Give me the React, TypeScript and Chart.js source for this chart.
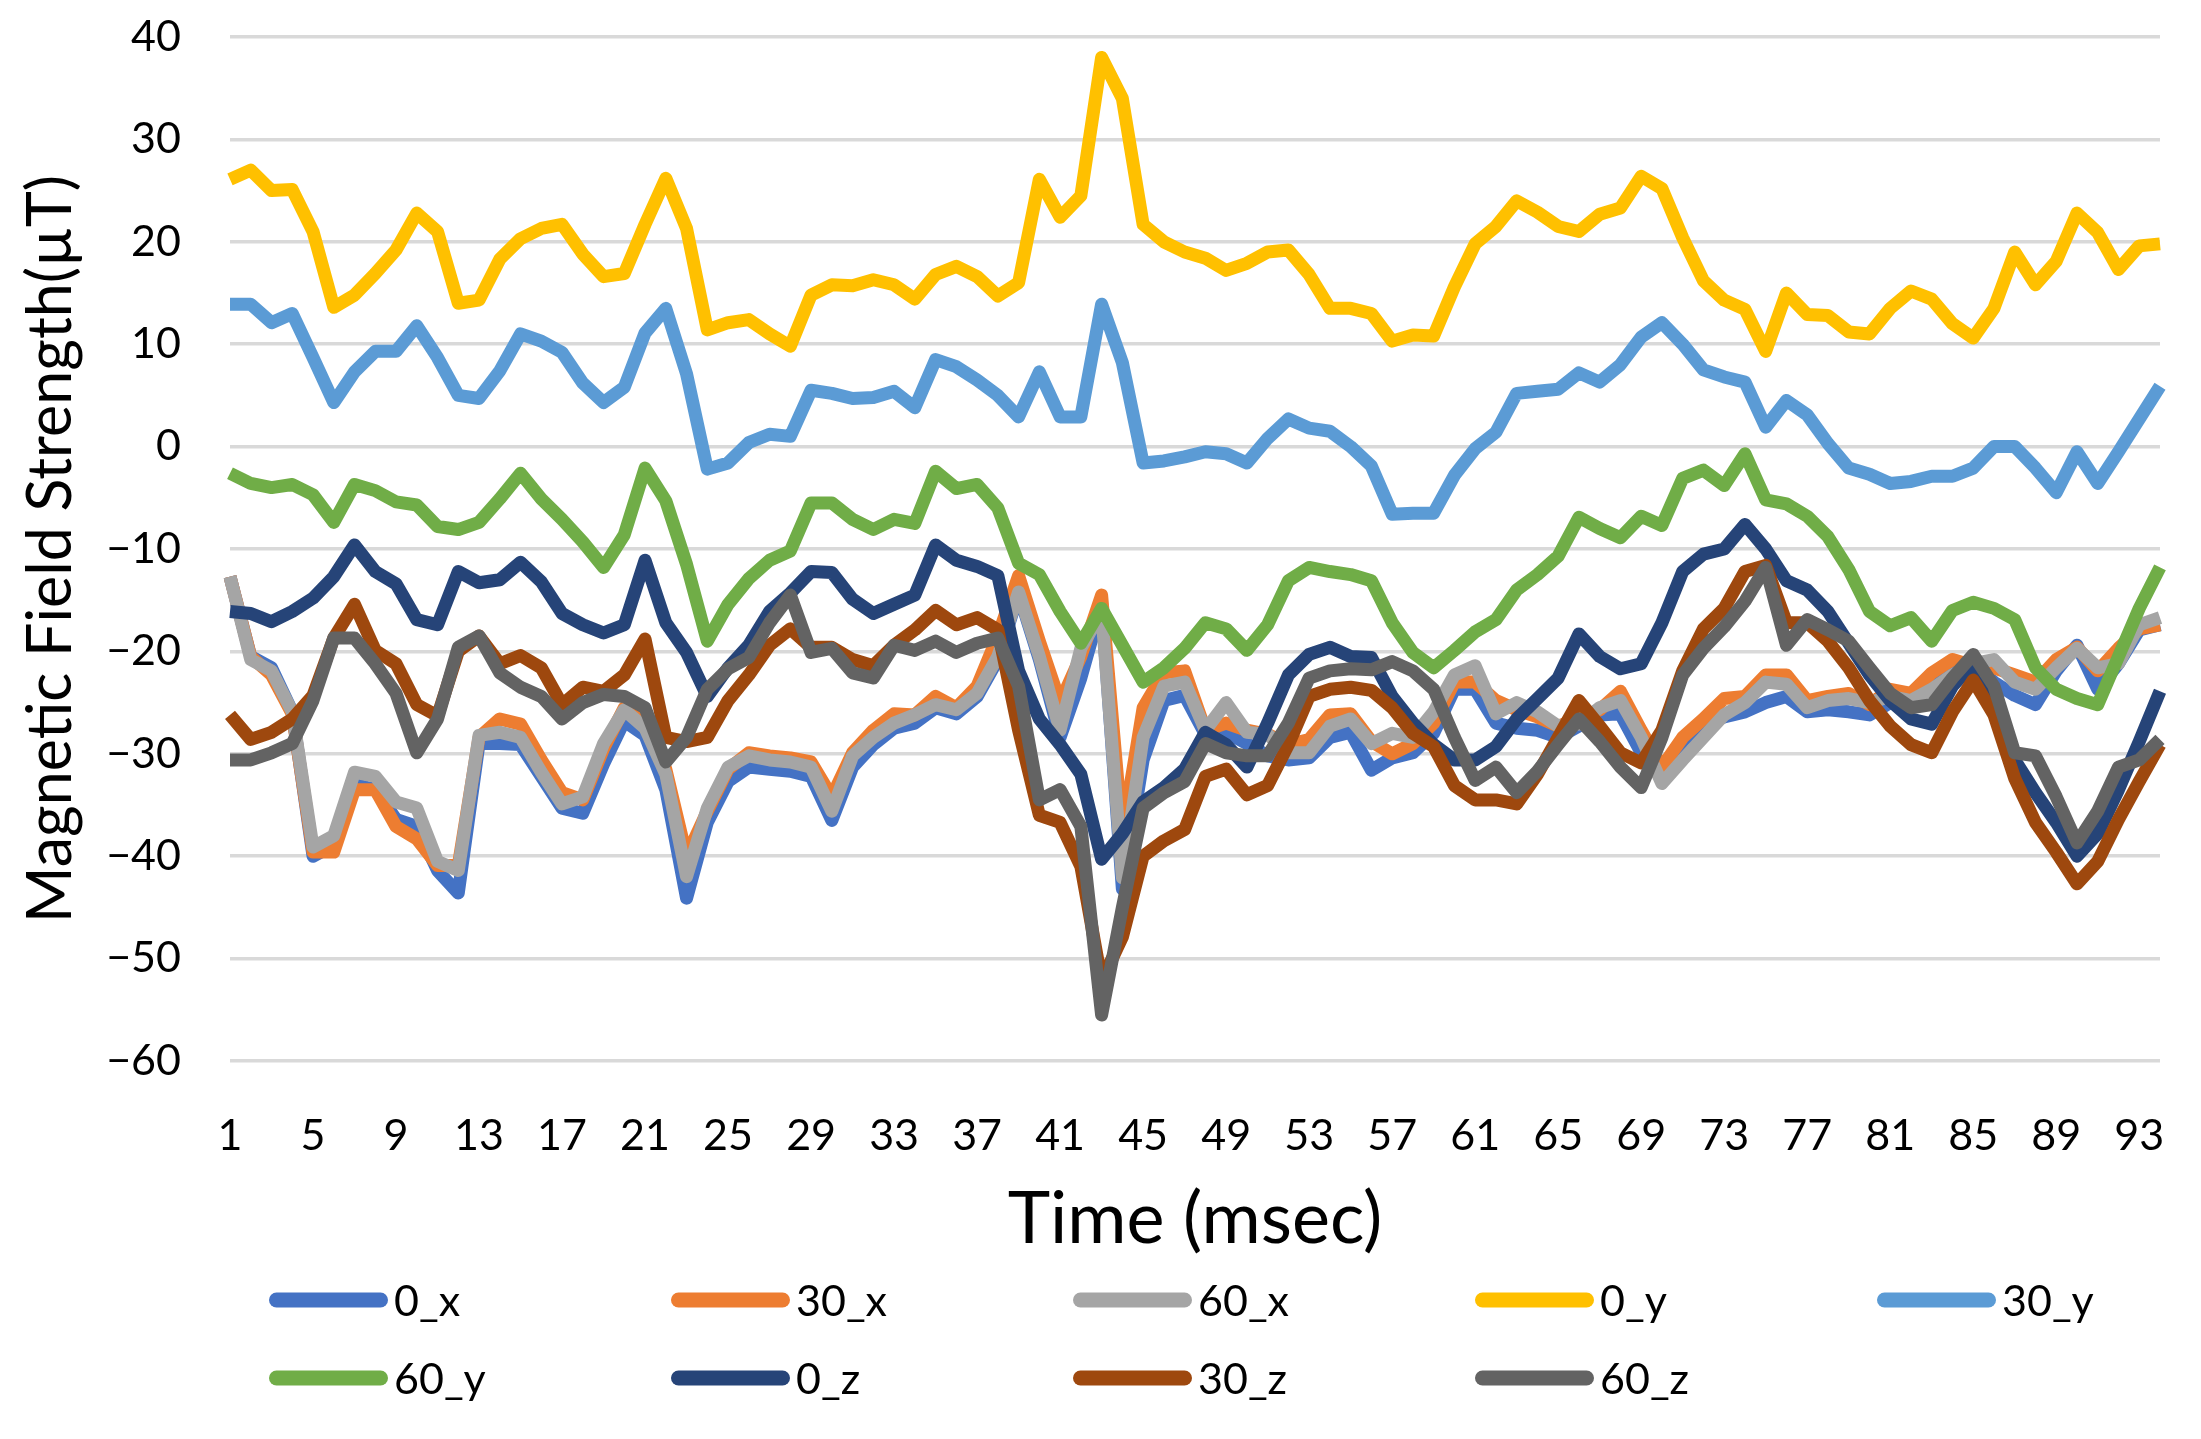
import React, { useEffect, useRef } from 'react';
import { Chart, registerables } from 'chart.js';

Chart.register(...registerables);

// ---------- data ----------
const categories = [
  '1','2','3','4','5','6','7','8','9','10','11','12','13','14','15','16','17','18','19','20',
  '21','22','23','24','25','26','27','28','29','30','31','32','33','34','35','36','37','38','39','40',
  '41','42','43','44','45','46','47','48','49','50','51','52','53','54','55','56','57','58','59','60',
  '61','62','63','64','65','66','67','68','69','70','71','72','73','74','75','76','77','78','79','80',
  '81','82','83','84','85','86','87','88','89','90','91','92','93','94',
];

const s0x = [
  -12.7, -20.5, -21.6, -25.9, -40, -38.9, -33, -33.5, -36.4, -37.1,
  -41.4, -43.6, -29, -29, -29.1, -32.2, -35.3, -35.8, -31, -26.8,
  -28.2, -33.5, -44.1, -36.7, -32.7, -31.3, -31.5, -31.7, -32.2, -36.5,
  -31.3, -29.1, -27.5, -27, -25.5, -26.1, -24.4, -20.8, -14.3, -20.8,
  -28.4, -22.6, -15.4, -43.2, -30.6, -24.8, -24.3, -28.1, -27.9, -29,
  -30.2, -30.6, -30.4, -28.4, -27.9, -31.6, -30.4, -29.9, -28, -23.7,
  -23.7, -27, -27.5, -27.7, -28.4, -27.3, -26.2, -26.1, -29.9, -32.2,
  -28.8, -27, -26.4, -25.9, -25, -24.4, -25.9, -25.7, -25.9, -26.2,
  -25, -24.1, -22.5, -21.2, -21.2, -23, -24.3, -25.2, -21.9, -19.4,
  -23.7, -21.2, -17.9, -17.4,
];

const s30x = [
  -12.7, -20.5, -22.3, -26.1, -39.6, -39.6, -33.5, -33.5, -37.1, -38.3,
  -40.9, -40.9, -28.4, -26.6, -27.1, -30.6, -33.8, -34.5, -29.5, -25.5,
  -27, -31.5, -40, -35.6, -31.5, -29.9, -30.2, -30.4, -30.8, -34.2,
  -29.9, -27.7, -26.1, -26.2, -24.4, -25.5, -23.4, -18.5, -12.6, -19,
  -25, -20.5, -14.5, -37.8, -25.5, -22.1, -21.9, -27.7, -27, -27.7,
  -28.1, -29.1, -28.6, -26.2, -26.1, -28.8, -30, -29, -27, -23,
  -23, -24.8, -25.7, -26.4, -27.3, -26.6, -25.7, -23.9, -27.7, -31.3,
  -28.4, -26.6, -24.6, -24.4, -22.3, -22.3, -24.8, -24.4, -24.1, -25.2,
  -23.7, -24.1, -22.1, -20.8, -21.4, -21.6, -22.3, -23, -20.8, -19.6,
  -21.9, -19.7, -17.8, -17.4,
];

const s60x = [
  -12.7, -20.8, -21.9, -25.9, -39.1, -38, -31.8, -32.2, -34.7, -35.3,
  -40.5, -41.4, -28.2, -27.9, -28.4, -31.8, -34.9, -34.2, -29, -25.7,
  -27.5, -32, -42, -35.3, -31.3, -30.2, -30.6, -30.8, -31.3, -35.6,
  -30.2, -28.4, -27, -26.2, -25.2, -25.7, -24.1, -20.5, -14.2, -20.5,
  -27.7, -19.7, -16.1, -42.1, -28.4, -23.4, -23, -27.7, -25, -27.9,
  -28.1, -29.9, -29.9, -27.3, -26.6, -29, -28, -28.4, -25.9, -22.3,
  -21.4, -26.1, -25, -25.9, -27.3, -27.1, -25.5, -24.8, -28.4, -32.9,
  -30.6, -28.4, -26.2, -25, -23, -23.2, -25.5, -24.8, -24.6, -25,
  -24.4, -24.8, -23.7, -22.3, -21.2, -20.8, -23, -23.7, -21.6, -19.7,
  -21.6, -21.2, -17.4, -16.7,
];

const s0y = [
  26.1, 27, 25, 25.1, 21, 13.6, 14.8, 16.9, 19.2, 22.8,
  21, 14, 14.3, 18.3, 20.3, 21.3, 21.7, 18.8, 16.6, 16.9,
  21.7, 26.2, 21.3, 11.4, 12.1, 12.4, 11, 9.8, 14.8, 15.8,
  15.7, 16.3, 15.8, 14.4, 16.8, 17.6, 16.6, 14.7, 16, 26.1,
  22.4, 24.5, 38, 34, 21.7, 20, 19, 18.4, 17.2, 17.9,
  19, 19.2, 16.8, 13.5, 13.5, 13, 10.3, 10.9, 10.8, 15.6,
  19.8, 21.5, 24, 22.9, 21.5, 21, 22.7, 23.3, 26.4, 25.2,
  20.4, 16.2, 14.3, 13.4, 9.3, 15, 12.9, 12.8, 11.2, 11,
  13.5, 15.2, 14.4, 12, 10.6, 13.5, 19, 15.8, 18.1, 22.8,
  20.9, 17.3, 19.6, 19.8,
];

const s30y = [
  13.9, 13.9, 12.1, 13, 8.7, 4.3, 7.3, 9.3, 9.3, 11.8,
  8.7, 5, 4.7, 7.4, 11, 10.3, 9.2, 6.2, 4.3, 5.8,
  11.1, 13.5, 7.1, -2.2, -1.6, 0.4, 1.2, 1, 5.5, 5.2,
  4.7, 4.8, 5.4, 3.8, 8.5, 7.8, 6.5, 5, 2.9, 7.3,
  2.9, 2.9, 13.9, 8.2, -1.6, -1.4, -1, -0.5, -0.7, -1.6,
  0.8, 2.7, 1.8, 1.5, 0, -1.9, -6.6, -6.5, -6.5, -2.8,
  -0.2, 1.4, 5.2, 5.4, 5.6, 7.2, 6.3, 8, 10.7, 12.1,
  10, 7.5, 6.8, 6.3, 1.9, 4.5, 3.1, 0.3, -2.1, -2.7,
  -3.6, -3.4, -2.9, -2.9, -2.1, 0, 0, -2.1, -4.5, -0.5,
  -3.6, -0.5, 2.7, 5.9,
];

const s60y = [
  -2.6, -3.6, -4, -3.7, -4.7, -7.4, -3.7, -4.3, -5.4, -5.7,
  -7.8, -8.1, -7.4, -5.1, -2.6, -5.1, -7.1, -9.3, -11.8, -8.6,
  -2.1, -5.3, -11.5, -19, -15.4, -12.9, -11.1, -10.2, -5.5, -5.5,
  -7.1, -8.1, -7.1, -7.5, -2.4, -4.1, -3.7, -6, -11.4, -12.5,
  -16.1, -19.2, -15.8, -19.4, -23, -21.6, -19.7, -17.2, -17.8, -19.9,
  -17.4, -13.1, -11.8, -12.2, -12.5, -13.1, -17.2, -20.1, -21.6, -19.9,
  -18.1, -16.9, -14, -12.5, -10.7, -6.9, -8, -8.9, -6.8, -7.7,
  -3.1, -2.3, -3.8, -0.7, -5.2, -5.6, -6.8, -8.8, -12, -16.1,
  -17.5, -16.7, -19, -16, -15.2, -15.8, -16.9, -21.6, -23.7, -24.6,
  -25.2, -20.5, -15.8, -11.8,
];

const s0z = [
  -16.1, -16.3, -17.1, -16.1, -14.8, -12.7, -9.6, -12.2, -13.4, -16.9,
  -17.4, -12.2, -13.3, -13, -11.3, -13.2, -16.3, -17.4, -18.2, -17.4,
  -11.1, -17.2, -20.1, -24.4, -21.6, -19.4, -16.1, -14.3, -12.2, -12.3,
  -14.9, -16.3, -15.4, -14.5, -9.6, -11.1, -11.7, -12.6, -21.9, -26.6,
  -29.1, -32, -40.3, -37.8, -34.7, -33.3, -31.5, -27.9, -29.1, -31.3,
  -27, -22.3, -20.3, -19.6, -20.5, -20.6, -24.4, -27, -29.1, -30.6,
  -30.6, -29.3, -26.6, -24.6, -22.6, -18.3, -20.5, -21.7, -21.2, -17.2,
  -12.2, -10.5, -10, -7.6, -10, -13.1, -14, -16.1, -19.2, -22.3,
  -24.8, -26.6, -27.1, -23.4, -21.2, -24.4, -30.6, -33.8, -36.7, -40,
  -37.8, -33.5, -28.8, -23.9,
];

const s30z = [
  -26.2, -28.6, -27.9, -26.6, -24.3, -18.7, -15.4, -19.9, -21.2, -25.2,
  -26.3, -20, -18.5, -21.2, -20.4, -21.6, -25.2, -23.5, -23.9, -22.3,
  -18.8, -28.4, -28.8, -28.4, -24.8, -22.3, -19.4, -17.8, -19.6, -19.6,
  -20.8, -21.4, -19.4, -17.9, -16, -17.4, -16.7, -17.9, -27.7, -36,
  -36.7, -41, -52.2, -47.9, -40, -38.5, -37.4, -32.2, -31.5, -34,
  -33.1, -29.1, -24.4, -23.7, -23.5, -23.8, -25.5, -28, -29.3, -33.1,
  -34.5, -34.5, -34.9, -32, -28.4, -24.8, -27.3, -29.9, -30.9, -27.7,
  -21.9, -17.8, -15.8, -12.2, -11.6, -17.2, -17.2, -19, -21.6, -24.8,
  -27.3, -29.1, -29.9, -25.9, -22.8, -26.2, -32.4, -36.7, -39.6, -42.7,
  -40.5, -36.4, -32.7, -29.1,
];

const s60z = [
  -30.6, -30.6, -29.9, -29, -24.8, -18.7, -18.7, -21.2, -24.1, -29.9,
  -26.6, -19.6, -18.5, -22.1, -23.5, -24.4, -26.6, -25, -24.2, -24.4,
  -25.5, -30.8, -28.4, -23.7, -21.7, -20.6, -17.2, -14.5, -20.1, -19.7,
  -22.1, -22.6, -19.4, -19.9, -19, -20.1, -19.2, -18.7, -23.4, -34.5,
  -33.5, -37.1, -55.5, -45, -35.3, -33.8, -32.7, -29, -29.9, -30.2,
  -30.2, -27, -22.6, -21.9, -21.7, -21.8, -21, -21.9, -23.7, -28.4,
  -32.6, -31.3, -33.8, -31.7, -29.1, -26.6, -28.8, -31.3, -33.3, -28.4,
  -22.3, -19.7, -17.6, -15.1, -11.8, -19.4, -16.9, -17.9, -19, -21.6,
  -24.1, -25.5, -25.2, -22.6, -20.3, -23.4, -29.9, -30.2, -34.2, -38.7,
  -35.6, -31.3, -30.6, -28.6,
];

const seriesNames = ['0_x', '30_x', '60_x', '0_y', '30_y', '60_y', '0_z', '30_z', '60_z'];
const seriesValues = [s0x, s30x, s60x, s0y, s30y, s60y, s0z, s30z, s60z];
const seriesColors = ['#4472C4', '#ED7D31', '#A5A5A5', '#FFC000', '#5B9BD5', '#70AD47', '#264478', '#9E480E', '#636363'];

const yMin = -60;
const yMax = 40;
const yStep = 10;
const xLabelEvery = 4;
const xTitle = 'Time (msec)';
const yTitle = 'Magnetic Field Strength(µT)';

const FONT = 'Lato, "Open Sans", sans-serif';

// custom grid legend drawn on the canvas (columns like the original)
const gridLegend = {
  id: 'gridLegend',
  afterDraw(chart: any, _args: any, opts: any) {
    const ctx = chart.ctx;
    const datasets = chart.data.datasets;
    datasets.forEach((ds: any, i: number) => {
      const col = i % opts.columns;
      const row = Math.floor(i / opts.columns);
      const x = opts.left + col * opts.colWidth;
      const y = opts.top + row * opts.rowHeight;
      ctx.save();
      ctx.strokeStyle = ds.borderColor;
      ctx.lineWidth = opts.lineWidth;
      ctx.lineCap = 'round';
      ctx.beginPath();
      ctx.moveTo(x + opts.lineWidth / 2, y);
      ctx.lineTo(x + opts.swatch - opts.lineWidth / 2, y);
      ctx.stroke();
      ctx.fillStyle = opts.color;
      ctx.font = `${opts.size}px ${FONT}`;
      ctx.textBaseline = 'middle';
      ctx.textAlign = 'left';
      ctx.fillText(ds.label, x + opts.swatch + opts.gap, y + 2);
      ctx.restore();
    });
  },
};

export default function App() {
  const canvasRef = useRef<HTMLCanvasElement | null>(null);

  useEffect(() => {
    const canvas = canvasRef.current;
    if (!canvas) return;
    const n = seriesNames.length;
    const chart = new Chart(canvas, {
      type: 'line',
      data: {
        labels: categories,
        datasets: seriesNames.map((name, i) => ({
          label: name,
          data: seriesValues[i],
          borderColor: seriesColors[i],
          backgroundColor: seriesColors[i],
          borderWidth: 13,
          pointRadius: 0,
          pointHoverRadius: 0,
          tension: 0,
          fill: false,
          borderJoinStyle: 'round' as const,
          borderCapStyle: 'butt' as const,
          order: n - 1 - i,
        })),
      },
      options: {
        responsive: false,
        animation: false,
        devicePixelRatio: 1,
        layout: { padding: { left: 15, right: 37, top: 37, bottom: 176 } },
        plugins: {
          legend: { display: false },
          tooltip: { enabled: false },
          gridLegend: {
            columns: 5,
            left: 269,
            colWidth: 402,
            top: 1300,
            rowHeight: 78,
            swatch: 119,
            gap: 6,
            lineWidth: 15,
            size: 43,
            color: '#000000',
          },
        } as any,
        scales: {
          x: {
            type: 'category',
            offset: false,
            grid: { display: false },
            border: { display: false },
            ticks: {
              autoSkip: false,
              maxRotation: 0,
              minRotation: 0,
              padding: 41,
              color: '#000000',
              font: { family: FONT, size: 43 },
              callback: function (this: any, value: any, index: number) {
                return index % xLabelEvery === 0 ? this.getLabelForValue(value) : '';
              },
            },
            title: {
              display: true,
              text: xTitle,
              color: '#000000',
              font: { family: FONT, size: 72 },
              padding: { top: 0, bottom: 0 },
            },
            afterFit: (scale: any) => {
              scale.height = 202;
            },
          },
          y: {
            min: yMin,
            max: yMax,
            grid: {
              color: '#D9D9D9',
              lineWidth: 3.5,
              drawTicks: true,
              tickLength: 45,
              tickColor: 'rgba(0,0,0,0)',
            },
            border: { display: false },
            ticks: {
              stepSize: yStep,
              padding: 4,
              color: '#000000',
              font: { family: FONT, size: 43 },
              callback: (v: any) => String(v).replace('-', '\u2212'),
            },
            title: {
              display: true,
              text: yTitle,
              color: '#000000',
              font: { family: FONT, size: 61 },
              padding: { top: 0, bottom: 0 },
            },
            afterFit: (scale: any) => {
              scale.width = 215;
            },
          },
        },
      },
      plugins: [gridLegend],
    });
    return () => chart.destroy();
  }, []);

  return (
    <div style={{ position: 'absolute', left: 0, top: 0, width: 2201, height: 1439, background: '#ffffff' }}>
      <canvas ref={canvasRef} width={2201} height={1439} style={{ display: 'block', width: 2201, height: 1439 }} />
    </div>
  );
}
